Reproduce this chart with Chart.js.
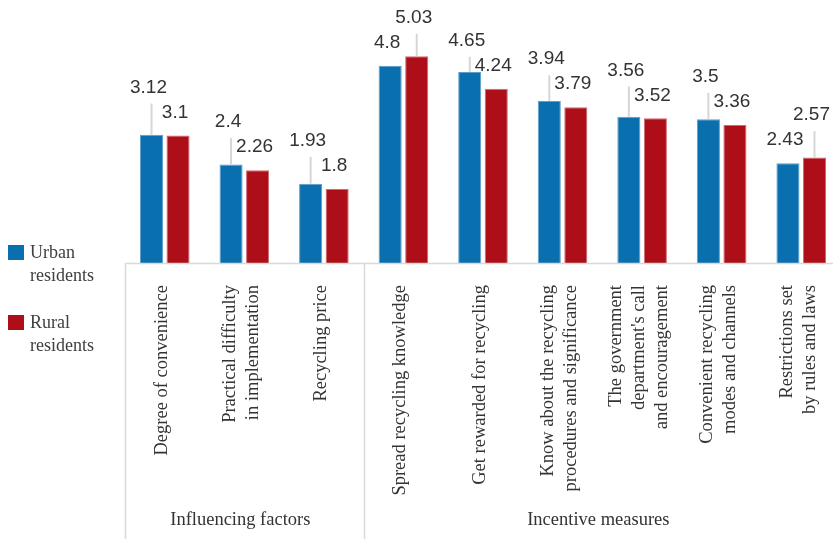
<!DOCTYPE html>
<html lang="en">
<head>
<meta charset="UTF-8">
<meta name="viewport" content="width=device-width, initial-scale=1.0">
<title>Urban and rural residents: influencing factors and incentive measures</title>
<script src="https://cdn.jsdelivr.net/npm/chart.js"></script>
<style>
  html, body { margin: 0; padding: 0; background: #fff; overflow: hidden; }
  canvas { display: block; }
</style>
</head>
<body>

<canvas id="myChart" width="845" height="539"></canvas>

<script>
// category labels, one entry per line of the rotated label
const categories = [
  ["Degree of convenience"],
  ["Practical difficulty", "in implementation"],
  ["Recycling price"],
  ["Spread recycling knowledge"],
  ["Get rewarded for recycling"],
  ["Know about the recycling", "procedures and significance"],
  ["The government", "department's call", "and encouragement"],
  ["Convenient recycling", "modes and channels"],
  ["Restrictions set", "by rules and laws"]
];
const groups = ["Influencing factors", "Incentive measures"];
const groupSizes = [3, 6];

const seriesNames = ["Urban residents", "Rural residents"];
const urban = [3.12, 2.4, 1.93, 4.8, 4.65, 3.94, 3.56, 3.5, 2.43];
const rural = [3.1, 2.26, 1.8, 5.03, 4.24, 3.79, 3.52, 3.36, 2.57];

const BLUE = "#0a6fae";
const RED = "#ad0e17";
const SERIF = '"Liberation Serif", "Times New Roman", serif';
const SANS = '"Liberation Sans", Arial, sans-serif';

// value labels: the lower bar gets its label right above it,
// the taller one is lifted above that with a thin leader line
const valueLabels = {
  id: "valueLabels",
  afterDatasetsDraw(chart) {
    const ctx = chart.ctx;
    const m0 = chart.getDatasetMeta(0).data;
    const m1 = chart.getDatasetMeta(1).data;
    const d0 = chart.data.datasets[0].data;
    const d1 = chart.data.datasets[1].data;
    ctx.save();
    ctx.font = "19px " + SANS;
    ctx.fillStyle = "#333";
    ctx.textAlign = "center";
    ctx.textBaseline = "middle";
    for (let i = 0; i < d0.length; i++) {
      let low = { bar: m0[i], v: d0[i] };
      let high = { bar: m1[i], v: d1[i] };
      if (d0[i] > d1[i]) { const t = low; low = high; high = t; }
      const lowY = low.bar.y - 23;
      const highY = lowY - 25;
      if (high.bar.y - (highY + 16) > 4) {
        ctx.strokeStyle = "#d6d6d6";
        ctx.lineWidth = 2;
        ctx.beginPath();
        ctx.moveTo(high.bar.x, highY + 16);
        ctx.lineTo(high.bar.x, high.bar.y);
        ctx.stroke();
      }
      ctx.fillText(String(low.v), low.bar.x - 3, lowY);
      ctx.fillText(String(high.v), high.bar.x - 3, highY);
    }
    ctx.restore();
  }
};

// category axis with group boxes, plus the legend on the left
const axisAndLegend = {
  id: "axisAndLegend",
  afterDraw(chart) {
    const ctx = chart.ctx;
    const x = chart.scales.x;
    const area = chart.chartArea;
    const bottom = area.bottom;
    const H = chart.height;

    ctx.save();
    ctx.strokeStyle = "#d9d9d9";
    ctx.lineWidth = 1.5;
    ctx.beginPath();
    ctx.moveTo(area.left, bottom + 0.5);
    ctx.lineTo(area.right, bottom + 0.5);
    ctx.stroke();

    // group separators
    let start = 0;
    const edges = [area.left];
    groupSizes.forEach((n) => {
      const end = start + n;
      if (end < categories.length) {
        edges.push((x.getPixelForValue(end - 1) + x.getPixelForValue(end)) / 2);
      }
      start = end;
    });
    edges.forEach((ex) => {
      ctx.beginPath();
      ctx.moveTo(Math.round(ex) + 0.5, bottom);
      ctx.lineTo(Math.round(ex) + 0.5, H);
      ctx.stroke();
    });

    // rotated category labels
    ctx.fillStyle = "#333";
    ctx.font = "18.5px " + SERIF;
    ctx.textAlign = "right";
    ctx.textBaseline = "middle";
    categories.forEach((lines, i) => {
      const cx = x.getPixelForValue(i) - 3;
      lines.forEach((line, j) => {
        const lx = cx + (j - (lines.length - 1) / 2) * 23;
        ctx.save();
        ctx.translate(lx, bottom + 22);
        ctx.rotate(-Math.PI / 2);
        ctx.fillText(line, 0, 0);
        ctx.restore();
      });
    });

    // group names
    ctx.textAlign = "center";
    start = 0;
    groups.forEach((g, k) => {
      const end = start + groupSizes[k] - 1;
      const gx = (x.getPixelForValue(start) + x.getPixelForValue(end)) / 2;
      ctx.fillText(g, gx - 4, H - 19);
      start = end + 1;
    });

    // legend
    ctx.textAlign = "left";
    ctx.font = "18px " + SERIF;
    chart.data.datasets.forEach((ds, k) => {
      const top = 245 + k * 70;
      ctx.fillStyle = ds.backgroundColor;
      ctx.fillRect(8, top, 16, 15);
      ctx.fillStyle = "#404040";
      ds.label.split(" ").forEach((w, j) => {
        ctx.fillText(w, 30, top + 8 + j * 23);
      });
    });
    ctx.restore();
  }
};

const ctx = document.getElementById("myChart").getContext("2d");
const chart = new Chart(ctx, {
  type: "bar",
  data: {
    labels: categories,
    datasets: [
      {
        label: seriesNames[0],
        data: urban,
        backgroundColor: BLUE,
        borderColor: "#5e9ccb",
        borderWidth: 1,
        categoryPercentage: 0.667,
        barPercentage: 0.87
      },
      {
        label: seriesNames[1],
        data: rural,
        backgroundColor: RED,
        borderColor: "#cf6a70",
        borderWidth: 1,
        categoryPercentage: 0.667,
        barPercentage: 0.87
      }
    ]
  },
  options: {
    responsive: false,
    animation: false,
    devicePixelRatio: 1,
    layout: { padding: { left: 125, right: 4, top: 0, bottom: 276 } },
    plugins: {
      legend: { display: false },
      tooltip: { enabled: false }
    },
    scales: {
      x: { display: false },
      y: { display: false, min: 0, max: 6.4 }
    }
  },
  plugins: [valueLabels, axisAndLegend]
});
</script>

</body>
</html>
